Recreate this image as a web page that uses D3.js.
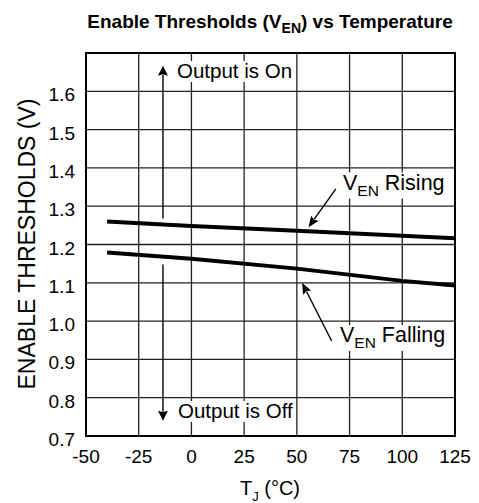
<!DOCTYPE html>
<html>
<head>
<meta charset="utf-8">
<script src="https://cdn.jsdelivr.net/npm/d3@7"></script>
<style>
  html, body { margin: 0; padding: 0; background: #fff; }
  svg { display: block; font-family: "Liberation Sans", Arial, Helvetica, sans-serif; }
</style>
</head>
<body>
<svg id="chart" width="479" height="503"></svg>
<script>
// ---- data ----
const temps = [-40, 0, 50, 100, 125];
const risingValues = [1.260, 1.248, 1.236, 1.223, 1.216];
const fallingValues = [1.179, 1.163, 1.137, 1.105, 1.093];
const xTicks = [-50, -25, 0, 25, 50, 75, 100, 125];
const yTicks = [0.7, 0.8, 0.9, 1.0, 1.1, 1.2, 1.3, 1.4, 1.5, 1.6];
const xDomain = [-50, 125];
const yDomain = [0.7, 1.7];

// ---- layout ----
const svg = d3.select("#chart");
const L = 86, R = 455, T = 53, B = 436;
const x = d3.scaleLinear().domain(xDomain).range([L, R]);
const y = d3.scaleLinear().domain(yDomain).range([B, T]);

svg.append("rect").attr("width", 479).attr("height", 503).attr("fill", "#fff");

// grid
const grid = svg.append("g").attr("stroke", "#222").attr("stroke-width", 1.3);
grid.selectAll("line.v").data(xTicks).join("line")
  .attr("x1", d => x(d)).attr("x2", d => x(d)).attr("y1", T).attr("y2", B);
grid.selectAll("line.h").data(yTicks).join("line")
  .attr("x1", L).attr("x2", R).attr("y1", d => y(d)).attr("y2", d => y(d));

// annotation text with white backgrounds
const ann = svg.append("g");
function label(parent, px, py, parts, size) {
  const t = parent.append("text").attr("x", px).attr("y", py)
    .attr("font-size", size).attr("fill", "#000");
  parts.forEach(p => {
    const ts = t.append("tspan").text(p.t);
    if (p.sub) ts.attr("font-size", size * 0.72).attr("dy", 6);
    if (p.up) ts.attr("dy", -6);
  });
  return t;
}
function withBg(t, pad) {
  const bb = t.node().getBBox();
  const r = document.createElementNS("http://www.w3.org/2000/svg", "rect");
  t.node().parentNode.insertBefore(r, t.node());
  d3.select(r)
    .attr("x", bb.x - pad).attr("y", bb.y + 2).attr("width", bb.width + 2 * pad)
    .attr("height", bb.height - 2).attr("fill", "#fff");
}
const tOn = label(ann, 177, 78, [{t: "Output is On"}], 20.5);
withBg(tOn, 2);
const tOff = label(ann, 178, 418, [{t: "Output is Off"}], 20.5);
withBg(tOff, 2);
const tRise = label(ann, 343, 189.5, [{t: "V"}, {t: "EN", sub: true}, {t: " Rising", up: true}], 21.5);
withBg(tRise, 2);
const tFall = label(ann, 340, 342, [{t: "V"}, {t: "EN", sub: true}, {t: " Falling", up: true}], 21.5);
withBg(tFall, 2);

// frame
svg.append("rect").attr("x", L).attr("y", T).attr("width", R - L).attr("height", B - T)
  .attr("fill", "none").attr("stroke", "#000").attr("stroke-width", 2);

// data lines
const line = d3.line().x(d => x(d[0])).y(d => y(d[1]));
[risingValues, fallingValues].forEach(vals => {
  svg.append("path").datum(temps.map((t, i) => [t, vals[i]]))
    .attr("d", line).attr("fill", "none").attr("stroke", "#000").attr("stroke-width", 4);
});

// arrows
function arrow(x1, y1, x2, y2, headLen, headW) {
  const dx = x2 - x1, dy = y2 - y1, len = Math.hypot(dx, dy);
  const ux = dx / len, uy = dy / len;
  const bx = x2 - ux * headLen, by = y2 - uy * headLen;
  svg.append("line").attr("x1", x1).attr("y1", y1).attr("x2", bx + ux).attr("y2", by + uy)
    .attr("stroke", "#000").attr("stroke-width", 1.4);
  svg.append("path")
    .attr("d", `M${x2},${y2}L${bx - uy * headW},${by + ux * headW}L${bx + ux * 1.5},${by + uy * 1.5}L${bx + uy * headW},${by - ux * headW}Z`)
    .attr("fill", "#000");
}
const arrowT = -13.5;
arrow(x(arrowT), y(1.268), x(arrowT), y(1.667), 10, 5);
arrow(x(arrowT), y(1.148), x(arrowT), y(0.74), 10, 5);
arrow(x(68.5), y(1.345), x(55.5), y(1.245), 11, 4.5);
arrow(x(66.5), y(0.948), x(52.5), y(1.1), 11, 4.5);

// tick labels
svg.append("g").selectAll("text").data(yTicks).join("text")
  .attr("x", 75).attr("y", d => y(d) + 10).attr("text-anchor", "end")
  .attr("font-size", 19).text(d => d.toFixed(1));
svg.append("g").selectAll("text").data(xTicks).join("text")
  .attr("x", d => x(d)).attr("y", 463).attr("text-anchor", "middle")
  .attr("font-size", 19).text(d => d);

// axis titles
const xt = svg.append("text").attr("x", 270).attr("y", 495).attr("text-anchor", "middle")
  .attr("font-size", 20);
xt.append("tspan").text("T");
xt.append("tspan").text("J").attr("font-size", 13).attr("dy", 6);
xt.append("tspan").text(" (°C)").attr("dy", -6);

svg.append("text").attr("transform", "translate(35,244) rotate(-90)")
  .attr("text-anchor", "middle").attr("font-size", 23).text("ENABLE THRESHOLDS (V)");

// title
const tt = svg.append("text").attr("x", 270).attr("y", 28).attr("text-anchor", "middle")
  .attr("font-size", 19).attr("font-weight", "bold");
tt.append("tspan").text("Enable Thresholds (V");
tt.append("tspan").text("EN").attr("font-size", 14).attr("dy", 5);
tt.append("tspan").text(") vs Temperature").attr("dy", -5);
</script>
</body>
</html>
